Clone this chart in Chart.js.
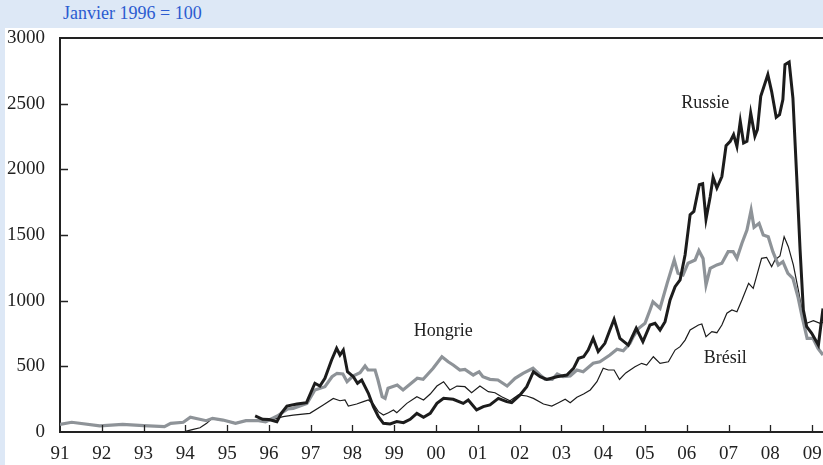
<!DOCTYPE html>
<html lang="fr">
<head>
  <meta charset="UTF-8">
  <title>Janvier 1996 = 100</title>
  <script src="https://cdn.jsdelivr.net/npm/chart.js"></script>
  <style>
    body { margin: 0; background: #dde8f6; width: 823px; height: 465px; overflow: hidden; position: relative; }
    #title { position: absolute; left: 63px; top: 3px; font: 18px "Liberation Serif", serif; color: #2b5bd0; }
    #wrap { position: absolute; left: 5px; top: 28px; width: 818px; height: 437px; background: #fff; }
  </style>
</head>
<body>
  <div id="title">Janvier 1996 = 100</div>
  <div id="wrap"><canvas id="myChart" width="818" height="437"></canvas></div>

  <script>
    // x ticks (years) and their labels
    const yearTicks = [1991, 1992, 1993, 1994, 1995, 1996, 1997, 1998, 1999, 2000,
                       2001, 2002, 2003, 2004, 2005, 2006, 2007, 2008, 2009];
    const yearLabels = ['91', '92', '93', '94', '95', '96', '97', '98', '99', '00',
                        '01', '02', '03', '04', '05', '06', '07', '08', '09'];

    // Hongrie (gray)
    const hongrieDates = [1991.00, 1991.28, 1991.95, 1992.50, 1993.00, 1993.50, 1993.65, 1993.95, 1994.12, 1994.50,
      1994.65, 1994.90, 1995.20, 1995.45, 1995.75, 1995.92, 1996.03, 1996.20, 1996.45, 1996.58,
      1996.91, 1997.10, 1997.34, 1997.51, 1997.63, 1997.77, 1997.87, 1998.01, 1998.18, 1998.30,
      1998.37, 1998.54, 1998.61, 1998.71, 1998.78, 1998.85, 1999.07, 1999.21, 1999.55, 1999.69,
      1999.93, 2000.14, 2000.29, 2000.41, 2000.57, 2000.69, 2000.89, 2001.03, 2001.12, 2001.29,
      2001.48, 2001.70, 2001.89, 2002.08, 2002.32, 2002.49, 2002.61, 2002.78, 2002.90, 2003.04,
      2003.21, 2003.37, 2003.52, 2003.76, 2003.92, 2004.16, 2004.33, 2004.48, 2004.64, 2004.72,
      2004.85, 2005.00, 2005.12, 2005.19, 2005.36, 2005.53, 2005.70, 2005.79, 2005.91, 2006.03,
      2006.20, 2006.29, 2006.39, 2006.46, 2006.56, 2006.72, 2006.84, 2006.99, 2007.11, 2007.20,
      2007.32, 2007.44, 2007.54, 2007.61, 2007.73, 2007.83, 2007.95, 2008.06, 2008.19, 2008.30,
      2008.42, 2008.54, 2008.66, 2008.76, 2008.88, 2009.02, 2009.14, 2009.26];
    const hongrieValues = [58, 74, 46, 58, 48, 41, 66, 74, 112, 86,
      104, 91, 66, 86, 86, 78, 95, 122, 175, 180,
      218, 320, 345, 421, 447, 442, 383, 426, 452, 503,
      472, 472, 396, 269, 256, 333, 358, 320, 409, 401,
      485, 573, 535, 510, 472, 477, 434, 459, 421, 401,
      396, 350, 409, 447, 485, 434, 401, 401, 442, 421,
      426, 472, 459, 523, 535, 586, 630, 619, 675, 726,
      790, 828, 929, 992, 942, 1132, 1310, 1208, 1196, 1285,
      1310, 1381, 1322, 1120, 1246, 1272, 1285, 1373, 1373, 1322,
      1437, 1538, 1690, 1559, 1589, 1500, 1487, 1373, 1272, 1297,
      1208, 1170, 1030, 878, 713, 713, 637, 586];

    // Russie (thick black)
    const russieDates = [1995.67, 1995.85, 1996.00, 1996.19, 1996.30, 1996.43, 1996.67, 1996.90, 1997.10, 1997.22,
      1997.34, 1997.50, 1997.62, 1997.70, 1997.78, 1997.88, 1998.02, 1998.12, 1998.22, 1998.38,
      1998.50, 1998.62, 1998.74, 1998.90, 1999.06, 1999.22, 1999.38, 1999.54, 1999.70, 1999.86,
      2000.02, 2000.18, 2000.41, 2000.65, 2000.77, 2000.97, 2001.13, 2001.29, 2001.49, 2001.69,
      2001.81, 2002.01, 2002.17, 2002.33, 2002.49, 2002.65, 2002.89, 2003.13, 2003.29, 2003.41,
      2003.53, 2003.64, 2003.76, 2003.88, 2004.04, 2004.16, 2004.26, 2004.40, 2004.60, 2004.79,
      2004.95, 2005.12, 2005.24, 2005.36, 2005.48, 2005.60, 2005.72, 2005.84, 2005.96, 2006.08,
      2006.17, 2006.30, 2006.38, 2006.46, 2006.56, 2006.63, 2006.72, 2006.84, 2006.94, 2007.04,
      2007.12, 2007.20, 2007.28, 2007.36, 2007.44, 2007.53, 2007.63, 2007.69, 2007.77, 2007.94,
      2008.03, 2008.14, 2008.22, 2008.30, 2008.35, 2008.45, 2008.54, 2008.63, 2008.71, 2008.79,
      2008.87, 2008.99, 2009.15, 2009.26];
    const russieValues = [122, 97, 95, 79, 145, 198, 213, 223, 371, 350,
      409, 548, 637, 586, 624, 459, 421, 371, 396, 295,
      193, 117, 66, 61, 79, 71, 97, 142, 112, 142,
      218, 256, 249, 218, 244, 168, 193, 206, 256, 231,
      223, 282, 345, 459, 421, 401, 421, 434, 485, 561,
      573, 624, 713, 612, 675, 777, 858, 713, 662, 790,
      688, 815, 828, 777, 840, 1005, 1107, 1158, 1350, 1655,
      1680, 1883, 1890, 1620, 1792, 1940, 1858, 1945, 2180, 2213,
      2264, 2175, 2366, 2201, 2213, 2429, 2252, 2302, 2556, 2721,
      2594, 2396, 2416, 2531, 2797, 2817, 2543, 1950, 1395, 929,
      802, 751, 662, 940];

    // Brésil (thin black)
    const bresilDates = [1994.00, 1994.19, 1994.35, 1994.51, 1994.63, 1994.90, 1995.20, 1995.45, 1995.75, 1996.03,
      1996.34, 1996.58, 1996.98, 1997.30, 1997.54, 1997.70, 1997.82, 1997.90, 1998.10, 1998.26,
      1998.38, 1998.50, 1998.62, 1998.74, 1998.86, 1998.98, 1999.06, 1999.30, 1999.54, 1999.70,
      1999.86, 2000.02, 2000.18, 2000.33, 2000.50, 2000.69, 2000.85, 2001.05, 2001.25, 2001.41,
      2001.57, 2001.77, 2001.97, 2002.17, 2002.33, 2002.57, 2002.77, 2002.93, 2003.09, 2003.21,
      2003.37, 2003.53, 2003.69, 2003.85, 2004.00, 2004.12, 2004.26, 2004.39, 2004.54, 2004.76,
      2004.92, 2005.04, 2005.20, 2005.36, 2005.56, 2005.72, 2005.84, 2005.96, 2006.08, 2006.28,
      2006.36, 2006.46, 2006.60, 2006.72, 2006.84, 2006.96, 2007.08, 2007.20, 2007.32, 2007.48,
      2007.59, 2007.69, 2007.79, 2007.91, 2008.03, 2008.11, 2008.23, 2008.33, 2008.43, 2008.55,
      2008.67, 2008.75, 2008.87, 2009.03, 2009.19, 2009.26];
    const bresilValues = [5, 20, 32, 66, 100, 91, 70, 84, 90, 91,
      117, 129, 142, 206, 256, 238, 244, 198, 213, 231,
      244, 213, 155, 129, 147, 168, 147, 218, 269, 244,
      289, 350, 383, 320, 350, 345, 299, 350, 307, 299,
      269, 238, 282, 274, 256, 213, 198, 223, 249, 223,
      264, 289, 320, 383, 485, 472, 472, 400, 450, 497,
      523, 510, 573, 523, 535, 624, 650, 700, 777, 815,
      822, 726, 764, 756, 815, 904, 929, 916, 1005, 1132,
      1094, 1208, 1322, 1330, 1259, 1310, 1340, 1487, 1411, 1272,
      1081, 942, 828, 848, 828, 835];

    // series name labels placed in data coordinates
    const seriesNames = ['Russie', 'Hongrie', 'Brésil'];
    const nameDates = [2006.44, 2000.17, 2006.92];
    const nameValues = [2505, 769, 563];

    const serif = '"Liberation Serif", "Times New Roman", serif';
    const ink = '#222';

    function pts(dates, values) {
      return dates.map((d, i) => ({ x: d, y: values[i] }));
    }

    // inside tick marks, top frame line and series names
    const extras = {
      id: 'extras',
      afterDatasetsDraw(chart) {
        const ctx = chart.ctx;
        const area = chart.chartArea;
        const xs = chart.scales.x, ys = chart.scales.y;
        ctx.save();
        ctx.strokeStyle = ink;
        ctx.lineWidth = 2;
        ctx.beginPath();
        ctx.moveTo(area.left - 1, area.top);
        ctx.lineTo(area.right, area.top);
        ctx.stroke();
        ctx.lineWidth = 1.3;
        ctx.beginPath();
        yearTicks.forEach(v => {
          const px = Math.round(xs.getPixelForValue(v)) + 0.5;
          if (v > xs.min) { ctx.moveTo(px, area.bottom); ctx.lineTo(px, area.bottom - 7); }
        });
        ys.ticks.forEach(t => {
          const py = Math.round(ys.getPixelForValue(t.value)) + 0.5;
          if (t.value > 0 && t.value < 3000) { ctx.moveTo(area.left, py); ctx.lineTo(area.left + 8, py); }
        });
        ctx.stroke();
        ctx.fillStyle = ink;
        ctx.font = '18px ' + serif;
        ctx.textAlign = 'center';
        ctx.textBaseline = 'middle';
        seriesNames.forEach((n, i) => {
          ctx.fillText(n, xs.getPixelForValue(nameDates[i]), ys.getPixelForValue(nameValues[i]));
        });
        ctx.restore();
      }
    };

    const ctx = document.getElementById('myChart').getContext('2d');
    const myChart = new Chart(ctx, {
      type: 'line',
      data: {
        datasets: [
          { label: 'Russie', data: pts(russieDates, russieValues), borderColor: '#1c1c1c', borderWidth: 3, order: 1 },
          { label: 'Hongrie', data: pts(hongrieDates, hongrieValues), borderColor: '#8e9398', borderWidth: 3.2, order: 2 },
          { label: 'Brésil', data: pts(bresilDates, bresilValues), borderColor: '#1c1c1c', borderWidth: 1.2, order: 3 }
        ]
      },
      options: {
        responsive: false,
        animation: false,
        parsing: false,
        elements: { point: { radius: 0 }, line: { tension: 0, borderJoinStyle: 'miter' } },
        layout: { padding: { top: 10, right: 0, left: 0, bottom: 0 } },
        plugins: { legend: { display: false }, tooltip: { enabled: false } },
        scales: {
          x: {
            type: 'linear',
            min: 1991,
            max: 2009.26,
            afterBuildTicks: s => { s.ticks = yearTicks.map(v => ({ value: v })); },
            afterFit: s => { s.height = 33; s.paddingRight = 0; s.paddingLeft = 0; },
            grid: { display: false, drawTicks: false },
            border: { color: ink, width: 2 },
            ticks: {
              autoSkip: false, maxRotation: 0, padding: 11,
              color: ink, font: { family: serif, size: 19 },
              callback: (v, i) => yearLabels[i]
            }
          },
          y: {
            min: 0,
            max: 3000,
            afterFit: s => { s.width = 55; s.paddingTop = 0; s.paddingBottom = 0; },
            grid: { display: false, drawTicks: false },
            border: { color: ink, width: 2 },
            ticks: {
              stepSize: 500, padding: 15,
              color: ink, font: { family: serif, size: 19 },
              callback: v => String(v)
            }
          }
        }
      },
      plugins: [extras]
    });
  </script>
</body>
</html>
